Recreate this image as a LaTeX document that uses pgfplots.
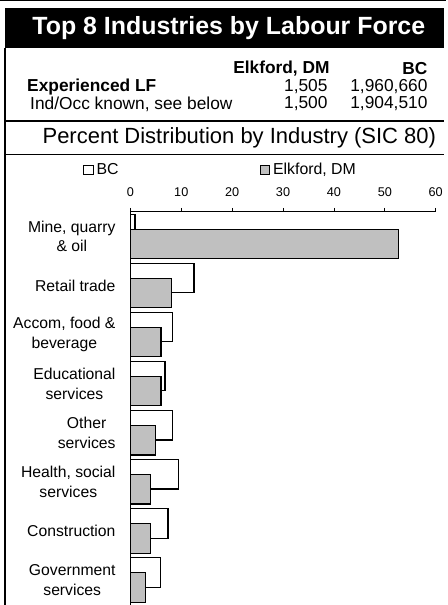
\documentclass[border=0pt]{standalone}
\usepackage{fontspec}
\setmainfont{Liberation Sans}
\usepackage{pgfplots}
\pgfplotsset{compat=1.18}
\definecolor{elk}{RGB}{192,192,192}
\begin{document}
\begin{tikzpicture}
\begin{scope}[x=0.75pt,y=-0.75pt]
\path[use as bounding box] (0,0) rectangle (446,605);
\draw[line width=1.1pt] (0,0.7)--(446,0.7);
\fill[black] (5,8) rectangle (444,48);
\node[text=white,font=\fontsize{18.7}{22}\selectfont\bfseries] at (229,28.5) {Top 8 Industries by Labour Force};
\draw[line width=0.9pt] (5,48)--(5,605);
\def\tf{\fontsize{13}{15}\selectfont}
\node[anchor=east,font=\tf\bfseries,inner sep=0pt] at (330,69) {Elkford, DM};
\node[anchor=east,font=\tf\bfseries,inner sep=0pt] at (428,69) {BC};
\node[anchor=west,font=\tf\bfseries,inner sep=0pt] at (27,87) {Experienced LF};
\node[anchor=east,font=\tf,inner sep=0pt] at (328,87) {1,505};
\node[anchor=east,font=\tf,inner sep=0pt] at (428,87) {1,960,660};
\node[anchor=west,font=\tf,inner sep=0pt] at (30,104) {Ind/Occ known, see below};
\node[anchor=east,font=\tf,inner sep=0pt] at (328,104) {1,500};
\node[anchor=east,font=\tf,inner sep=0pt] at (428,104) {1,904,510};
\draw[line width=0.9pt] (5,121)--(444,121);
\node[font=\fontsize{16.5}{19}\selectfont,inner sep=0pt] at (239.5,138) {Percent Distribution by Industry (SIC 80)};
\draw[line width=0.9pt] (5,155)--(444,155);
\end{scope}
\begin{axis}[
  at={(97.875pt,-159pt)}, anchor=north west,
  scale only axis, width=229.125pt, height=294.75pt,
  xmin=0, xmax=60, ymin=-0.5, ymax=7.5, y dir=reverse,
  axis x line*=top, axis y line*=left,
  axis line style={line width=0.7pt, black},
  xtick={0,10,20,30,40,50,60},
  tick align=outside, major tick length=3pt,
  xtick style={black, line width=0.6pt},
  ytick style={draw=none},
  /pgf/number format/assume math mode=true,
  xticklabel style={font=\fontsize{9.5}{11}\selectfont, yshift=5pt},
  ytick={0,1,2,3,4,5,6,7},
  yticklabels={{Mine, quarry\\\& oil},{Retail trade},{Accom, food \&\\beverage},{Educational\\services},{Other\\services},{Health, social\\services},{Construction},{Government\\services}},
  yticklabel style={align=center, font=\fontsize{11.8}{14.8}\selectfont, inner sep=0pt, xshift=-8pt},
  legend columns=2,
  legend style={at={(-0.1555,1.107)}, anchor=west, draw=none, fill=none, inner sep=0pt,
    font=\fontsize{11.9}{14}\selectfont,
    /tikz/every even column/.append style={column sep=104pt}},
  legend image code/.code={\draw[#1,line width=0.8pt] (0pt,-3.6pt) rectangle (7.2pt,3.6pt);},
  clip=false,
]
\addplot[xbar, bar shift=0pt, bar width=0.6, fill=white, draw=black, line width=0.9pt]
  coordinates {(0.9,-0.153) (12.5,0.847) (8.3,1.847) (6.8,2.847) (8.3,3.847) (9.4,4.847) (7.4,5.847) (5.9,6.847)};
\addlegendentry{BC}
\addplot[xbar, bar shift=0pt, bar width=0.6, fill=elk, draw=black, line width=0.9pt]
  coordinates {(52.7,0.153) (8.0,1.153) (6.0,2.153) (6.0,3.153) (5.0,4.153) (4.0,5.153) (4.0,6.153) (3.0,7.153)};
\addlegendentry{Elkford, DM}
\end{axis}
\end{tikzpicture}
\end{document}
